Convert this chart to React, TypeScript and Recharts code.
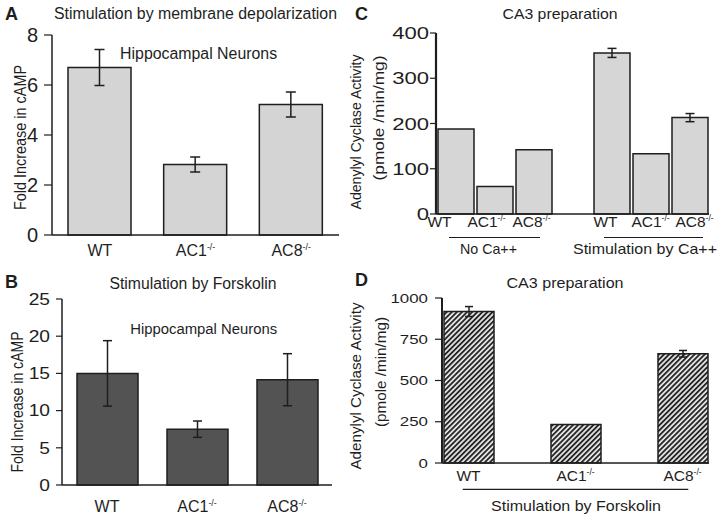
import React from 'react';
import { BarChart, Bar, XAxis, YAxis, ErrorBar } from 'recharts';

const FONT = '"Liberation Sans", Arial, Helvetica, sans-serif';
const INK = '#1e1e1e';

// Panel A: Stimulation by membrane depolarization
const aCategories = ['WT', 'AC1-/-', 'AC8-/-'];
const aValues = [6.7, 2.82, 5.22];
const aErrors = [0.72, 0.3, 0.5];
const aTicks = [0, 2, 4, 6, 8];

// Panel B: Stimulation by Forskolin
const bCategories = ['WT', 'AC1-/-', 'AC8-/-'];
const bValues = [15.0, 7.5, 14.15];
const bErrors = [4.4, 1.1, 3.5];
const bTicks = [0, 5, 10, 15, 20, 25];

// Panel C: CA3 preparation (No Ca++ / Stimulation by Ca++)
const cCategories = ['WT', 'AC1-/-', 'AC8-/-', '', 'WT', 'AC1-/-', 'AC8-/-'];
const cValues = [188, 61, 142, null, 356, 133, 213];
const cErrors = [0, 0, 0, 0, 10, 0, 9];
const cTicks = [0, 100, 200, 300, 400];
// horizontal nudges of the crowded tick labels in panel C (layout only)
const cLabelNudge = [-16, -8, -2, 0, -6, 0, 5];

// Panel D: CA3 preparation (Stimulation by Forskolin)
const dCategories = ['WT', 'AC1-/-', 'AC8-/-'];
const dValues = [918, 233, 662];
const dErrors = [30, 0, 20];
const dTicks = [0, 250, 500, 750, 1000];

function rows(cats: string[], vals: (number | null)[], errs: number[]) {
  return cats.map((c, i) => ({ key: i, label: c, value: vals[i], err: errs[i] }));
}

const makeXTick = (labels: string[], fontSize: number, dy: number, nudge?: number[]) => (props: any) => {
  const { x, y, payload } = props;
  const label = labels[payload.value];
  if (!label) return <g />;
  const dx = nudge ? nudge[payload.value] || 0 : 0;
  const m = label.match(/^(.*?)(-\/-)$/);
  return (
    <g transform={`translate(${x + dx},${y + dy})`}>
      <text textAnchor="middle" fontSize={fontSize} fontFamily={FONT} fill={INK}>
        {m ? (
          <>
            {m[1]}
            <tspan fontSize={fontSize * 0.55} dy={-fontSize * 0.38}>{m[2]}</tspan>
          </>
        ) : (
          label
        )}
      </text>
    </g>
  );
};

const makeYTick = (fontSize: number, sx = 1) => (props: any) => {
  const { x, y, payload } = props;
  return (
    <g transform={`translate(${x},${y})`}>
      <text transform={`scale(${sx},1)`} textAnchor="end" dy="0.36em" fontSize={fontSize} fontFamily={FONT} fill={INK}>
        {payload.value}
      </text>
    </g>
  );
};

type PanelProps = {
  left: number; top: number; width: number; height: number;
  margin: { top: number; right: number; bottom: number; left: number };
  yAxisWidth: number; xAxisHeight: number;
  data: any[]; max: number; ticks: number[];
  fill: string; barSize: number; errWidth: number;
  xTick: any; yTick: any; tickSize: number; tickMargin: number;
  xPadding?: { left: number; right: number };
  leftAxisWidth?: number;
  defs?: React.ReactNode;
};

function Panel(p: PanelProps) {
  const axisStyle = { stroke: INK, strokeWidth: 1.5 };
  return (
    <div style={{ position: 'absolute', left: p.left, top: p.top, width: p.width, height: p.height }}>
      <BarChart width={p.width} height={p.height} data={p.data} margin={p.margin}>
        {p.defs}
        <XAxis
          dataKey="key"
          type="category"
          axisLine={axisStyle}
          tickLine={false}
          tickSize={0}
          tickMargin={0}
          height={p.xAxisHeight}
          tick={p.xTick}
          interval={0}
          padding={p.xPadding}
        />
        <XAxis xAxisId="top" dataKey="key" orientation="top" axisLine={axisStyle} tick={false} tickLine={false} height={0} />
        <YAxis
          type="number"
          domain={[0, p.max]}
          ticks={p.ticks}
          axisLine={{ stroke: INK, strokeWidth: p.leftAxisWidth || 1.5 }}
          tickLine={{ stroke: INK, strokeWidth: 1.2 }}
          tickSize={p.tickSize}
          tickMargin={p.tickMargin}
          width={p.yAxisWidth}
          tick={p.yTick}
          interval={0}
        />
        <YAxis yAxisId="right" orientation="right" type="number" domain={[0, p.max]} axisLine={axisStyle} tick={false} tickLine={false} width={0} />
        <Bar dataKey="value" fill={p.fill} stroke={INK} strokeWidth={1.5} barSize={p.barSize} isAnimationActive={false}>
          <ErrorBar dataKey="err" width={p.errWidth} stroke={INK} strokeWidth={1.5} isAnimationActive={false} />
        </Bar>
      </BarChart>
    </div>
  );
}

const T = (props: any) => <text fontFamily={FONT} fill={INK} lengthAdjust="spacingAndGlyphs" {...props} />;

export default function App() {
  return (
    <div style={{ position: 'fixed', left: 0, top: 0, width: 720, height: 516, background: '#fff', overflow: 'hidden' }}>
      <Panel
        left={0} top={0} width={360} height={260}
        margin={{ top: 35, right: 21, bottom: 0, left: 0 }}
        yAxisWidth={52} xAxisHeight={25}
        data={rows(aCategories, aValues, aErrors)} max={8} ticks={aTicks}
        fill="#d4d4d4" barSize={63} errWidth={5}
        xTick={makeXTick(aCategories, 16, 21)} yTick={makeYTick(20)}
        tickSize={8} tickMargin={6}
      />
      <Panel
        left={0} top={260} width={360} height={256}
        margin={{ top: 39, right: 28, bottom: 0, left: 0 }}
        yAxisWidth={62} xAxisHeight={31}
        data={rows(bCategories, bValues, bErrors)} max={25} ticks={bTicks}
        fill="#535353" barSize={61} errWidth={4.5}
        xTick={makeXTick(bCategories, 16, 27)} yTick={makeYTick(16, 1.2)}
        tickSize={6} tickMargin={6}
      />
      <Panel
        left={360} top={0} width={360} height={260}
        margin={{ top: 33, right: 11, bottom: 0, left: 0 }}
        yAxisWidth={76} xAxisHeight={46}
        data={rows(cCategories, cValues, cErrors)} max={400} ticks={cTicks}
        fill="#d6d6d6" barSize={36} errWidth={4.5}
        xTick={makeXTick(cCategories, 15.5, 13, cLabelNudge)} yTick={makeYTick(17, 1.3)}
        tickSize={6} tickMargin={1} leftAxisWidth={2.2}
      />
      <Panel
        left={360} top={260} width={360} height={256}
        margin={{ top: 38, right: 11, bottom: 0, left: 0 }}
        yAxisWidth={82} xAxisHeight={53}
        data={rows(dCategories, dValues, dErrors)} max={1000} ticks={dTicks}
        fill="url(#hatchD)" barSize={50} errWidth={4}
        xTick={makeXTick(dCategories, 15.5, 18)} yTick={makeYTick(12.5, 1.35)}
        tickSize={7} tickMargin={7} leftAxisWidth={2}
        xPadding={{ left: -27, right: -27 }}
        defs={
          <defs>
            <pattern id="hatchD" width="3.6" height="3.6" patternUnits="userSpaceOnUse" patternTransform="rotate(45)">
              <rect width="3.6" height="3.6" fill="#e6e6e6" />
              <line x1="0.9" y1="0" x2="0.9" y2="3.6" stroke="#262626" strokeWidth="1.9" />
            </pattern>
          </defs>
        }
      />
      <svg width={720} height={516} style={{ position: 'absolute', left: 0, top: 0, pointerEvents: 'none' }}>
        {/* Panel A */}
        <T x={5} y={20} fontSize={18} fontWeight="bold">A</T>
        <T x={195.5} y={18.5} fontSize={16} textAnchor="middle" textLength={283}>Stimulation by membrane depolarization</T>
        <T x={198.6} y={59} fontSize={16} textAnchor="middle" textLength={157}>Hippocampal Neurons</T>
        <T transform="translate(20,137.5) rotate(-90)" fontSize={16} textAnchor="middle" dy="0.35em" textLength={145}>Fold Increase in cAMP</T>
        {/* Panel B */}
        <T x={5} y={288} fontSize={18} fontWeight="bold">B</T>
        <T x={193} y={288.5} fontSize={16} textAnchor="middle" textLength={167}>Stimulation by Forskolin</T>
        <T x={203.7} y={334} fontSize={15.5} textAnchor="middle" textLength={147}>Hippocampal Neurons</T>
        <T transform="translate(17,402) rotate(-90)" fontSize={16} textAnchor="middle" dy="0.35em" textLength={141}>Fold Increase in cAMP</T>
        {/* Panel C */}
        <T x={355} y={20} fontSize={18} fontWeight="bold">C</T>
        <T x={560} y={18.5} fontSize={15} textAnchor="middle" textLength={115}>CA3 preparation</T>
        <T transform="translate(356,132) rotate(-90)" fontSize={15} textAnchor="middle" dy="0.35em" textLength={155}>Adenylyl Cyclase  Activity</T>
        <T transform="translate(379,118) rotate(-90)" fontSize={14} textAnchor="middle" dy="0.35em" textLength={125}>(pmole /min/mg)</T>
        <line x1={449} x2={540} y1={237.5} y2={237.5} stroke={INK} strokeWidth={1.2} />
        <line x1={604} x2={703} y1={237.5} y2={237.5} stroke={INK} strokeWidth={1.2} />
        <T x={488.5} y={254} fontSize={15} textAnchor="middle" textLength={57}>No Ca++</T>
        <T x={645} y={254} fontSize={15} textAnchor="middle" textLength={144}>Stimulation by Ca++</T>
        {/* Panel D */}
        <T x={355} y={286} fontSize={18} fontWeight="bold">D</T>
        <T x={565} y={288} fontSize={15} textAnchor="middle" textLength={117}>CA3 preparation</T>
        <T transform="translate(356,386) rotate(-90)" fontSize={15} textAnchor="middle" dy="0.35em" textLength={167}>Adenylyl Cyclase  Activity</T>
        <T transform="translate(381,372) rotate(-90)" fontSize={14} textAnchor="middle" dy="0.35em" textLength={110}>(pmole /min/mg)</T>
        <line x1={462.7} x2={688.3} y1={489.3} y2={489.3} stroke={INK} strokeWidth={1.2} />
        <T x={576} y={511} fontSize={15} textAnchor="middle" textLength={170}>Stimulation by Forskolin</T>
      </svg>
    </div>
  );
}
